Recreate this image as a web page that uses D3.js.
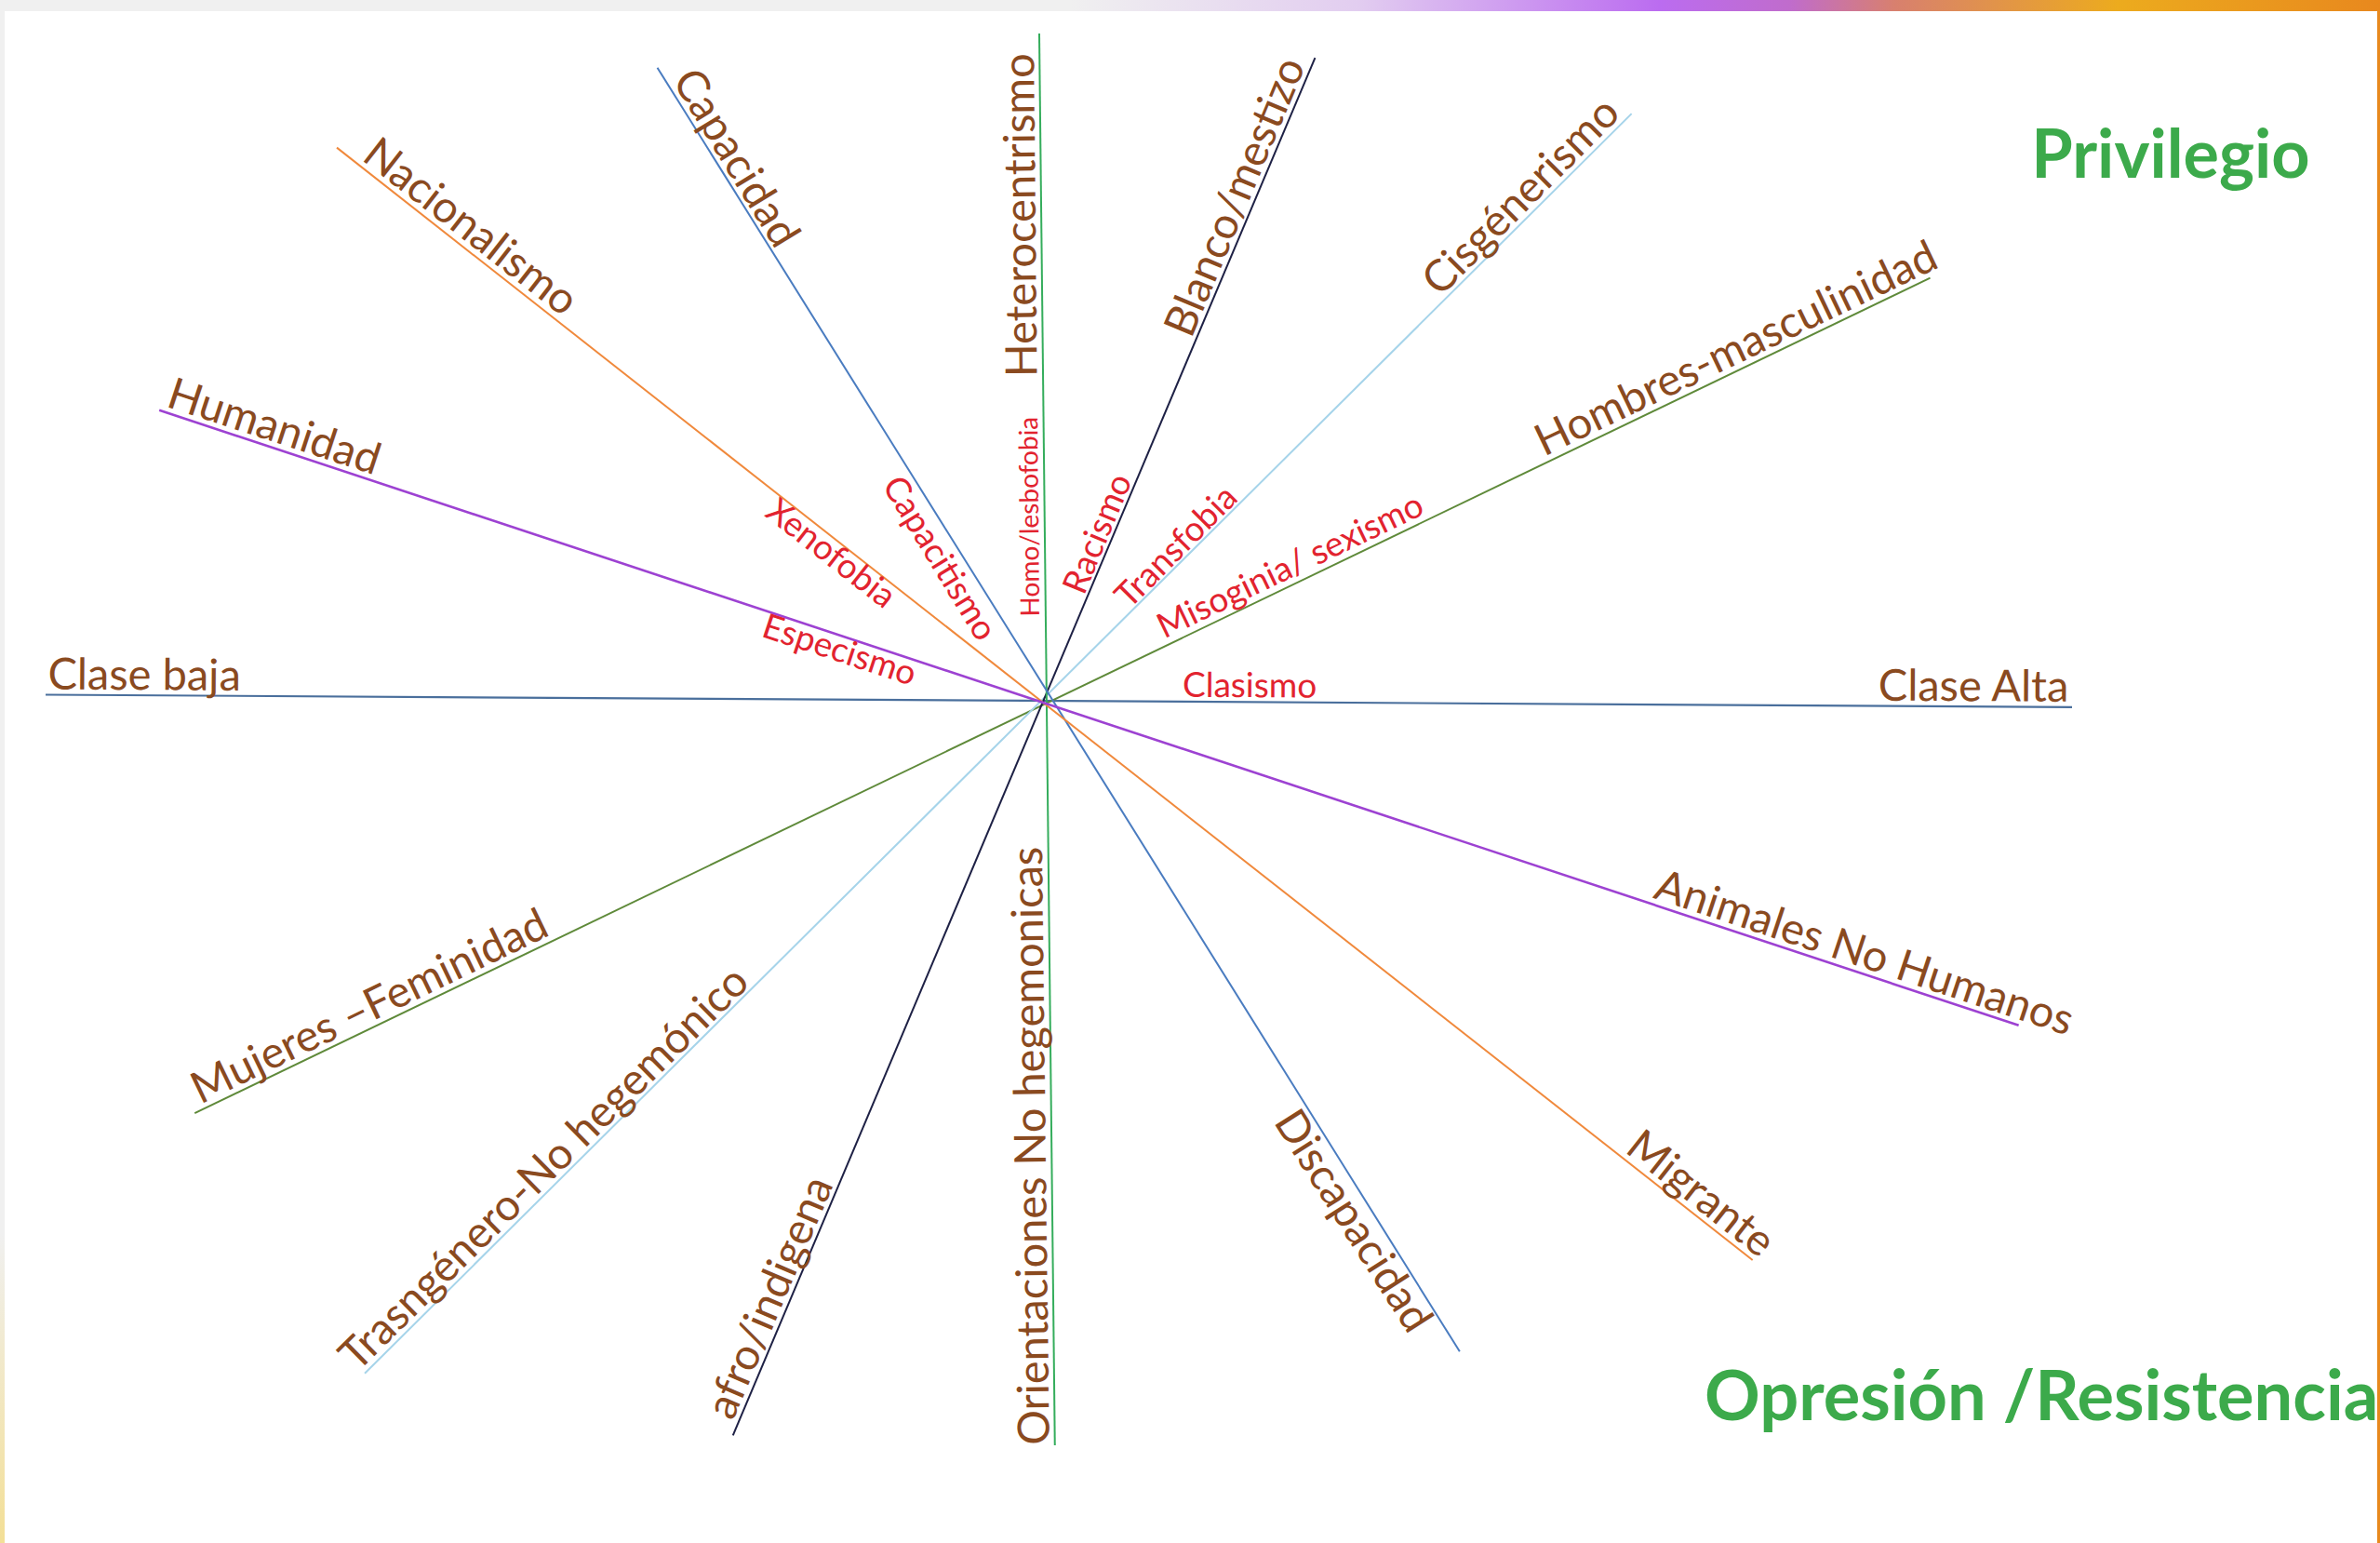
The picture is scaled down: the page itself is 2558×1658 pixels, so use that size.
<!DOCTYPE html>
<html>
<head>
<meta charset="utf-8">
<script src="https://cdn.jsdelivr.net/npm/d3@7"></script>
<style>
  html, body { margin: 0; padding: 0; background: #f0f0f0; overflow: hidden; }
  text { font-family: Lato, "Open Sans", sans-serif; }
</style>
</head>
<body>
<script>
"use strict"

// axes of the wheel: privilege end, oppression end, and the "ismo" between them
var privilegio = ["Clase Alta", "Hombres-masculinidad", "Cisgénerismo", "Blanco/mestizo", "Heterocentrismo", "Capacidad", "Nacionalismo", "Humanidad"];
var opresion = ["Clase baja", "Mujeres –Feminidad", "Trasngénero-No hegemónico", "afro/indigena", "Orientaciones No hegemonicas", "Discapacidad", "Migrante", "Animales No Humanos"];
var ismos = ["Clasismo", "Misoginia/ sexismo", "Transfobia", "Racismo", "Homo/lesbofobia", "Capacitismo", "Xenofobia", "Especismo"];

// direction of each end (degrees, 0 = up, clockwise) and how far it reaches
var angPriv = [90.3, 64.4, 44.9, 22.7, -0.56, -31.5, -52.0, -71.8];
var angOpr = [270.4, 244.2, 225.4, 203.1, 179.3, 147.5, 128.3, 108.4];
var reachPriv = [1103, 1054, 892, 750, 718, 799, 967, 1003];
var reachOpr = [1075, 1016, 1028, 857, 799, 828, 968, 1102];

// corner titles
var titulos = ["Privilegio", "Opresión /Resistencia"];

// ---- layout (not data) ----
var W = 2558, H = 1658;
var cx = 1124, cy = 754;
var lineColors = ["#4a6f9c", "#5f8a3a", "#a6d4ea", "#1e2145", "#35ad5c", "#4a7cc0", "#f0893c", "#9d42d2"];
var lineWidths = [2.2, 2, 2, 2, 2, 2, 2, 2.6];
var labelPosPriv = [997, 833, 745, 579, 523, 672, 801, 880];
var labelPosOpr = [969, 797, 736, 705, 477, 648, 880, 920];
var labelPosIsmo = [219, 300, 217, 188, 199, 191, 280, 228];
var belowOpr = ["Discapacidad"];
var belowIsmo = ["Capacitismo", "Xenofobia", "Especismo"];
var brown = "#8a4a1f", red = "#e2232f", green = "#3caa4b";

var svg = d3.select("body").append("svg")
    .attr("width", W)
    .attr("height", H);

// frame bits around the slide
var defs = svg.append("defs");
var topGrad = defs.append("linearGradient").attr("id", "topGrad");
[["0%", "#f0f0f0"], ["22%", "#e2cdf0"], ["45%", "#bb6cf0"], ["55%", "#c06ccc"], ["63%", "#d8806e"], ["80%", "#ecab1e"], ["100%", "#e8881e"]]
    .forEach(function(s) { topGrad.append("stop").attr("offset", s[0]).attr("stop-color", s[1]); });
var leftGrad = defs.append("linearGradient").attr("id", "leftGrad")
    .attr("x1", 0).attr("y1", 0).attr("x2", 0).attr("y2", 1);
[["0%", "#f0f0f0"], ["80%", "#f0f0f0"], ["100%", "#f3df96"]]
    .forEach(function(s) { leftGrad.append("stop").attr("offset", s[0]).attr("stop-color", s[1]); });

svg.append("rect").attr("x", 0).attr("y", 0).attr("width", W).attr("height", H).attr("fill", "#f0f0f0");
svg.append("rect").attr("x", 0).attr("y", 0).attr("width", 5).attr("height", H).attr("fill", "url(#leftGrad)");
svg.append("rect").attr("x", 1150).attr("y", 0).attr("width", W - 1150).attr("height", 12).attr("fill", "url(#topGrad)");
svg.append("rect").attr("x", 5).attr("y", 12).attr("width", W - 8).attr("height", H - 12).attr("fill", "#ffffff");
svg.append("rect").attr("x", W - 3).attr("y", 12).attr("width", 3).attr("height", H - 12).attr("fill", "#e8891e");

var r = d3.scaleLinear().domain([0, 1200]).range([0, 1200]);
function rad(a) { return a * Math.PI / 180; }

var g = svg.append("g").attr("transform", "translate(" + cx + "," + cy + ")");

// spokes
g.selectAll("line.spoke")
    .data(d3.range(privilegio.length))
    .enter()
    .append("line")
    .attr("class", "spoke")
    .attr("x1", function(i) { return d3.pointRadial(rad(angOpr[i]), r(reachOpr[i]))[0]; })
    .attr("y1", function(i) { return d3.pointRadial(rad(angOpr[i]), r(reachOpr[i]))[1]; })
    .attr("x2", function(i) { return d3.pointRadial(rad(angPriv[i]), r(reachPriv[i]))[0]; })
    .attr("y2", function(i) { return d3.pointRadial(rad(angPriv[i]), r(reachPriv[i]))[1]; })
    .attr("stroke", function(i) { return lineColors[i]; })
    .attr("stroke-width", function(i) { return lineWidths[i]; });

// text laid along a spoke, reading left to right (vertical ones read upward)
function label(name, ang, pos, below, size, color) {
    var p = d3.pointRadial(rad(ang), r(pos));
    var rot = ang - 90;
    while (rot >= 80) rot -= 180;
    while (rot < -100) rot += 180;
    g.append("text")
        .attr("transform", "translate(" + p[0] + "," + p[1] + ") rotate(" + rot + ")")
        .attr("y", below ? size * 0.78 : -6)
        .attr("text-anchor", "middle")
        .attr("fill", color)
        .style("font-size", size + "px")
        .text(name);
}

privilegio.forEach(function(d, i) { label(d, angPriv[i], labelPosPriv[i], false, 47, brown); });
opresion.forEach(function(d, i) { label(d, angOpr[i], labelPosOpr[i], belowOpr.indexOf(d) >= 0, 47, brown); });
ismos.forEach(function(d, i) {
    var size = d === "Homo/lesbofobia" ? 28 : 37;
    label(d, angPriv[i], labelPosIsmo[i], belowIsmo.indexOf(d) >= 0, size, red);
});

// titles
svg.append("text")
    .attr("x", 2333).attr("y", 191)
    .attr("text-anchor", "middle")
    .attr("fill", green)
    .style("font-size", "72px").style("font-weight", "bold")
    .text(titulos[0]);
svg.append("text")
    .attr("x", 1832).attr("y", 1526)
    .attr("fill", green)
    .style("font-size", "74px").style("font-weight", "bold")
    .text(titulos[1]);
</script>
</body>
</html>
